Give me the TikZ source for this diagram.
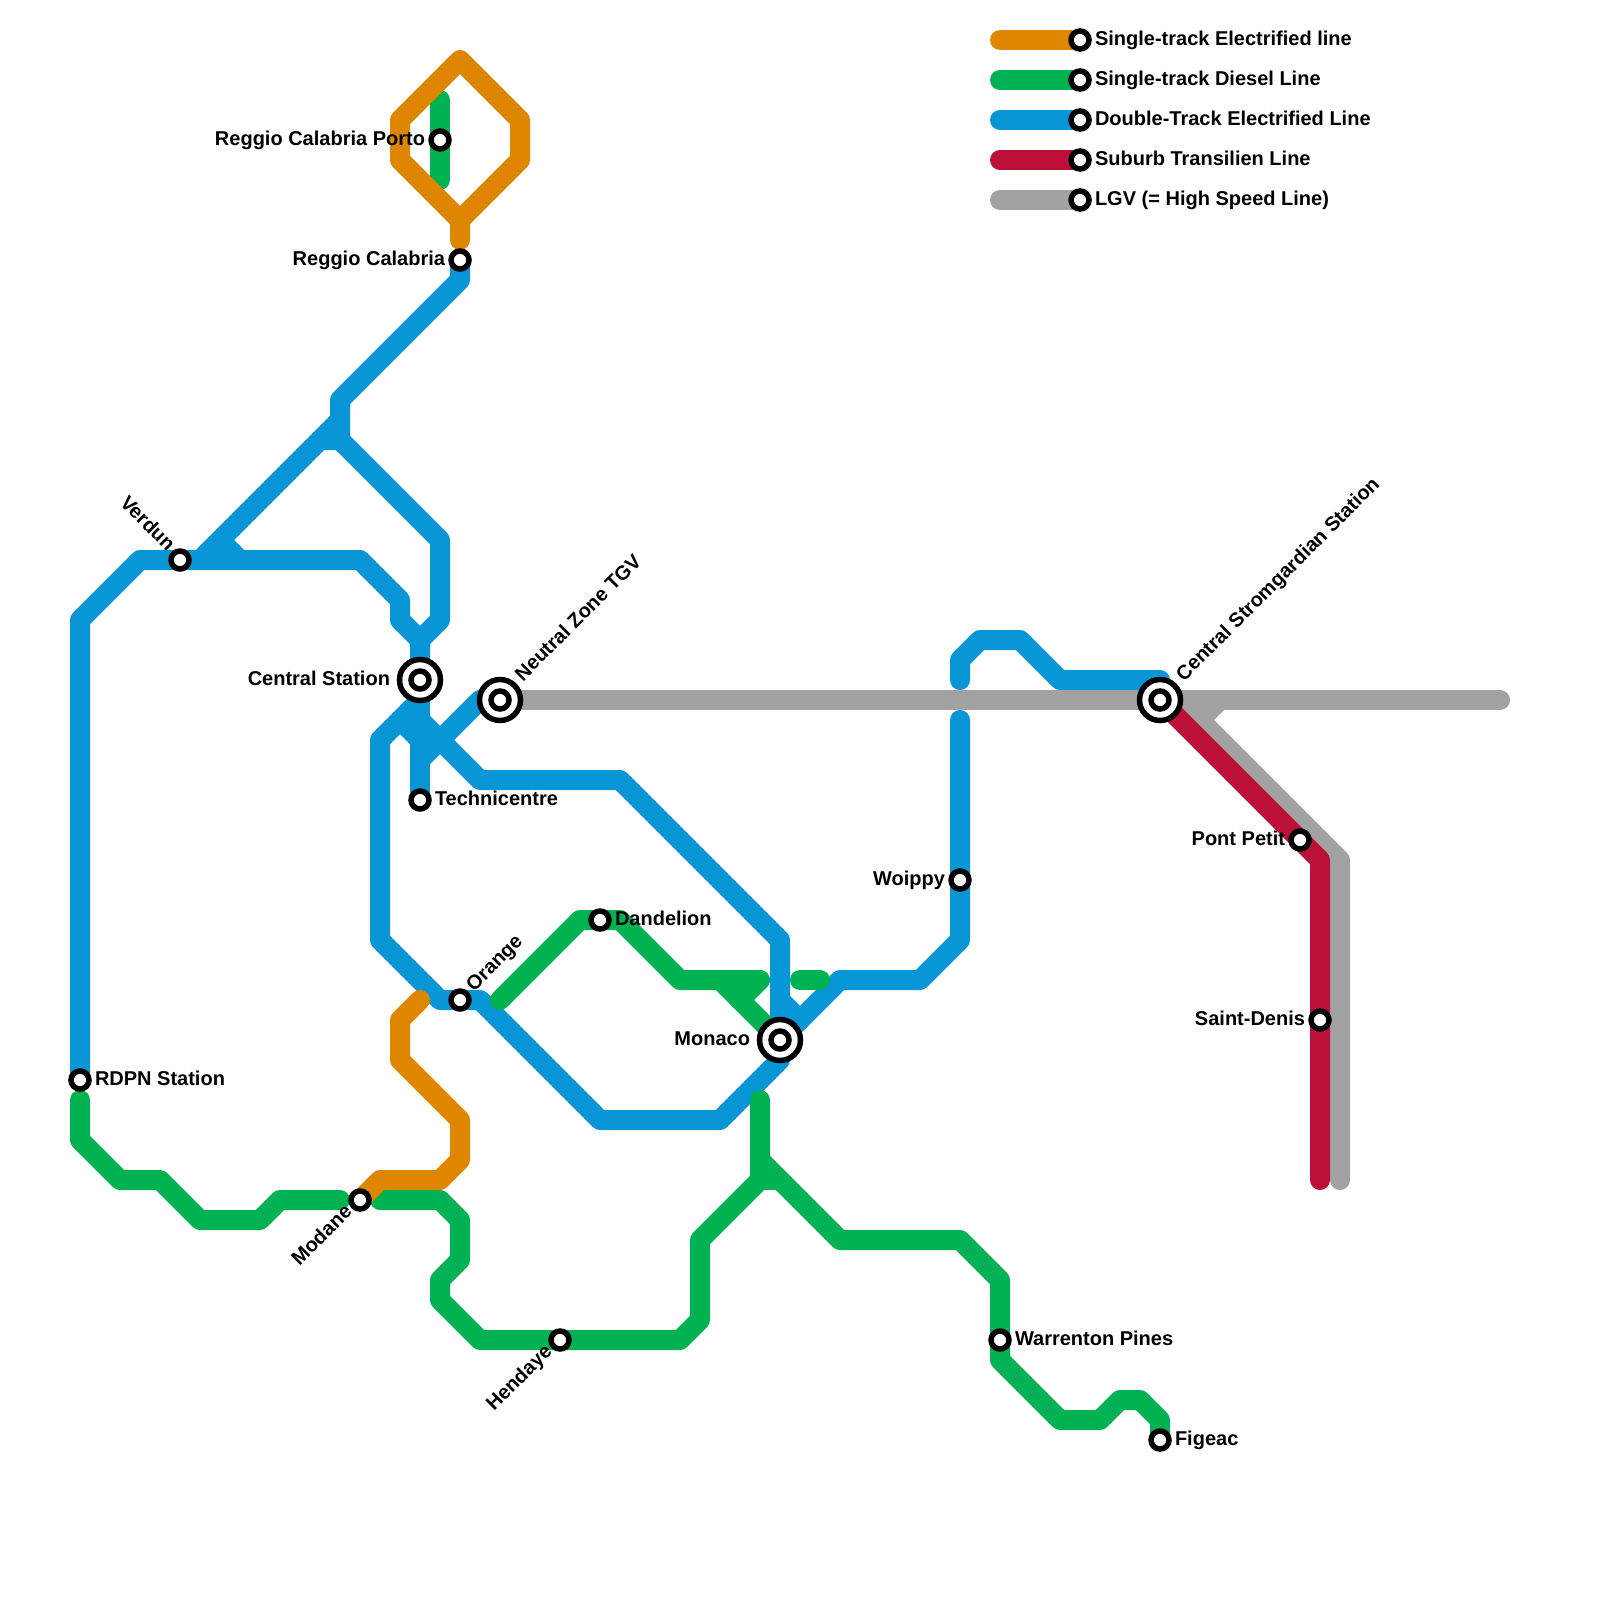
\documentclass[tikz,border=0pt]{standalone}
\usepackage{fontspec}
\setmainfont{Liberation Sans}
\pgfdeclarelayer{lines}
\pgfsetlayers{lines,main}
\definecolor{mOrange}{HTML}{DF8600}
\definecolor{mGreen}{HTML}{00B251}
\definecolor{mBlue}{HTML}{0896D7}
\definecolor{mRed}{HTML}{BD1038}
\definecolor{mGray}{HTML}{A2A2A2}
\tikzset{
  trackline/.style={line width=20pt,line cap=round,line join=round},
  orangeline/.style={trackline,draw=mOrange},
  greenline/.style={trackline,draw=mGreen},
  blueline/.style={trackline,draw=mBlue},
  redline/.style={trackline,draw=mRed},
  grayline/.style={trackline,draw=mGray},
  stn/.style={circle,draw=black,fill=white,line width=5.5pt,minimum size=18pt,inner sep=0pt,outer sep=0pt},
  hub/.style={circle,draw=black,fill=white,line width=5.5pt,minimum size=41pt,inner sep=0pt,outer sep=0pt},
  lbl/.style={inner sep=0pt,outer sep=0pt,text=black,font=\fontsize{20}{24}\selectfont\bfseries},
  lblR/.style={lbl,anchor=base west},
  lblL/.style={lbl,anchor=base east},
  lblUp/.style={lbl,anchor=base west,rotate=45},
  lblDown/.style={lbl,anchor=base east,rotate=45},
  lblVerdun/.style={lbl,anchor=base east,rotate=-45},
}
\begin{document}
\begin{tikzpicture}[x=1pt,y=-1pt]
\useasboundingbox (0,0) rectangle (1600,1600);
% stations
\node[stn] (lo) at (1080,40) {};
\node[stn] (lg) at (1080,80) {};
\node[stn] (lb) at (1080,120) {};
\node[stn] (lr) at (1080,160) {};
\node[stn] (ls) at (1080,200) {};
\coordinate (lo0) at (1000,40);
\coordinate (lg0) at (1000,80);
\coordinate (lb0) at (1000,120);
\coordinate (lr0) at (1000,160);
\coordinate (ls0) at (1000,200);
\node[stn] (porto) at (440,140) {};
\node[stn] (reggio) at (460,260) {};
\node[stn] (verdun) at (180,560) {};
\node[hub] (central) at (420,680) {};
\node[stn] (centralin) at (420,680) {};
\node[hub] (neutral) at (500,700) {};
\node[stn] (neutralin) at (500,700) {};
\node[stn] (techni) at (420,800) {};
\node[stn] (orangest) at (460,1000) {};
\node[stn] (dandelion) at (600,920) {};
\node[hub] (monaco) at (780,1040) {};
\node[stn] (monacoin) at (780,1040) {};
\node[stn] (woippy) at (960,880) {};
\node[hub] (strom) at (1160,700) {};
\node[stn] (stromin) at (1160,700) {};
\node[stn] (pont) at (1300,840) {};
\node[stn] (denis) at (1320,1020) {};
\node[stn] (rdpn) at (80,1080) {};
\node[stn] (modane) at (360,1200) {};
\node[stn] (hendaye) at (560,1340) {};
\node[stn] (warrenton) at (1000,1340) {};
\node[stn] (figeac) at (1160,1440) {};
% labels
\node[lblR] (t1) at (1095,45.5) {Single-track Electrified line};
\node[lblR] (t2) at (1095,85.5) {Single-track Diesel Line};
\node[lblR] (t3) at (1095,125.5) {Double-Track Electrified Line};
\node[lblR] (t4) at (1095,165.5) {Suburb Transilien Line};
\node[lblR] (t5) at (1095,205.5) {LGV (= High Speed Line)};
\node[lblL] (t6) at (425,145.5) {Reggio Calabria Porto};
\node[lblL] (t7) at (445,265.5) {Reggio Calabria};
\node[lblL] (t8) at (390,685.5) {Central Station};
\node[lblR] (t9) at (435,805.5) {Technicentre};
\node[lblR] (t10) at (615,925.5) {Dandelion};
\node[lblL] (t11) at (750,1045.5) {Monaco};
\node[lblL] (t12) at (945,885.5) {Woippy};
\node[lblL] (t13) at (1285,845.5) {Pont Petit};
\node[lblL] (t14) at (1305,1025.5) {Saint-Denis};
\node[lblR] (t15) at (95,1085.5) {RDPN Station};
\node[lblR] (t16) at (1015,1345.5) {Warrenton Pines};
\node[lblR] (t17) at (1175,1445.5) {Figeac};
\node[lblVerdun] (t18) at (167,552) {Verdun};
\node[lblUp] (t19) at (523,682) {Neutral Zone TGV};
\node[lblUp] (t20) at (474,992) {Orange};
\node[lblUp] (t21) at (1184,682) {Central Stromgardian Station};
\node[lblDown] (t22) at (353,1213) {Modane};
\node[lblDown] (t23) at (553,1353) {Hendaye};
\begin{pgfonlayer}{lines}
% blue
\draw[blueline] (reggio.center) -- (460,280) -- (340,400) -- (340,440) -- (320,440);
\draw[blueline] (340,420) -- (200,560);
\draw[blueline] (220,540) -- (240,560);
\draw[blueline] (340,440) -- (440,540) -- (440,620) -- (420,640) -- (central.center);
\draw[blueline] (rdpn.center) -- (80,620) -- (140,560) -- (360,560) -- (400,600) -- (400,620) -- (420,640);
\draw[blueline] (central.center) -- (techni.center);
\draw[blueline] (neutral.center) -- (480,700) -- (420,760);
\draw[blueline] (420,720) -- (480,780) -- (620,780) -- (780,940) -- (monaco.center);
\draw[blueline] (780,1000) -- (800,1020) -- (840,980) -- (920,980) -- (960,940) -- (960,720);
\draw[blueline] (420,700) -- (380,740) -- (380,940) -- (440,1000) -- (480,1000) -- (600,1120) -- (720,1120) -- (780,1060) -- (monaco.center);
\draw[blueline] (400,720) -- (420,740);
\draw[blueline] (800,1020) -- (monaco.center);
\draw[blueline] (960,680) -- (960,660) -- (980,640) -- (1020,640) -- (1060,680) -- (1160,680) -- (strom.center);
\draw[blueline] (lb0) -- (lb.center);
% green
\draw[greenline] (440,100) -- (440,180);
\draw[greenline] (80,1100) -- (80,1140) -- (120,1180) -- (160,1180) -- (200,1220) -- (260,1220) -- (280,1200) -- (340,1200);
\draw[greenline] (380,1200) -- (440,1200) -- (460,1220) -- (460,1260) -- (440,1280) -- (440,1300) -- (480,1340) -- (680,1340) -- (700,1320) -- (700,1240) -- (760,1180) -- (760,1100);
\draw[greenline] (760,1180) -- (780,1180);
\draw[greenline] (760,1160) -- (840,1240) -- (960,1240) -- (1000,1280) -- (1000,1360) -- (1060,1420) -- (1100,1420) -- (1120,1400) -- (1140,1400) -- (1160,1420) -- (figeac.center);
\draw[greenline] (500,1000) -- (580,920) -- (620,920) -- (680,980) -- (760,980) -- (740,1000);
\draw[greenline] (720,980) -- (monaco.center);
\draw[greenline] (800,980) -- (820,980);
\draw[greenline] (lg0) -- (lg.center);
% orange
\draw[orangeline] (460,240) -- (460,220) -- (400,160) -- (400,120) -- (460,60) -- (520,120) -- (520,160) -- (460,220);
\draw[orangeline] (modane.center) -- (380,1180) -- (440,1180) -- (460,1160) -- (460,1120) -- (400,1060) -- (400,1020) -- (420,1000);
\draw[orangeline] (lo0) -- (lo.center);
% gray
\draw[grayline] (neutral.center) -- (1500,700);
\draw[grayline] (1220,700) -- (1200,720) -- (1340,860) -- (1340,1180);
\draw[grayline] (1180,700) -- (1200,720);
\draw[grayline] (ls0) -- (ls.center);
% red
\draw[redline] (strom.center) -- (1320,860) -- (1320,1180);
\draw[redline] (lr0) -- (lr.center);
\end{pgfonlayer}
\end{tikzpicture}
\end{document}
